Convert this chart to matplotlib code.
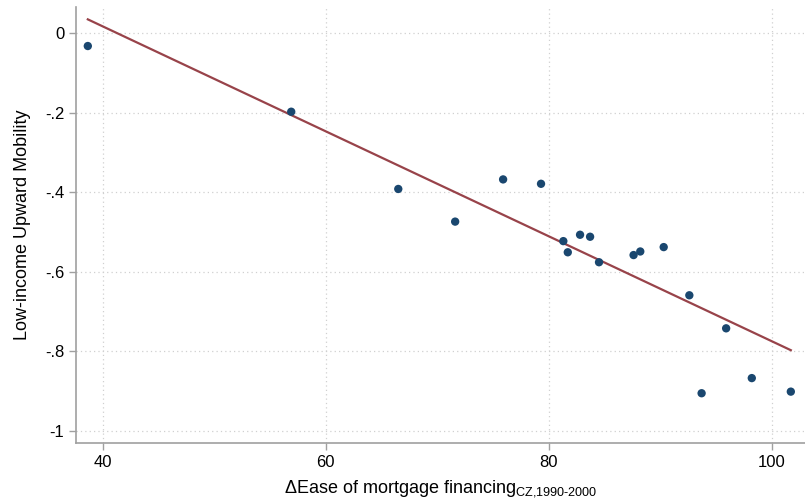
import numpy as np
import matplotlib
matplotlib.use("Agg")
import matplotlib.pyplot as plt

plt.rcParams['font.family'] = ['Liberation Sans', 'DejaVu Sans']
plt.rcParams['mathtext.fontset'] = 'custom'
plt.rcParams['mathtext.rm'] = 'Liberation Sans'

# binned scatter points
ease = [38.66, 56.9, 66.5, 71.6, 75.9, 79.3, 81.3, 81.7, 82.8, 83.7,
        84.5, 87.6, 88.2, 90.3, 92.6, 93.7, 95.9, 98.2, 101.7]
mobility = [-0.033, -0.198, -0.392, -0.474, -0.368, -0.379, -0.523, -0.551, -0.507, -0.512,
            -0.576, -0.558, -0.549, -0.538, -0.659, -0.905, -0.742, -0.867, -0.901]

# fitted line
fit_slope = -0.01318
fit_intercept = 0.5435

xticks = [40, 60, 80, 100]
yticks = [0, -0.2, -0.4, -0.6, -0.8, -1]
ytick_labels = ["0", "-.2", "-.4", "-.6", "-.8", "-1"]

fig = plt.figure(figsize=(8.05, 5.0), dpi=100)
ax = fig.add_axes([0.0944, 0.114, 0.906, 0.872])

grey = "#a0a0a0"
x_line = np.array([min(ease), max(ease)])
ax.plot(x_line, fit_intercept + fit_slope * x_line, color="#98434a", lw=1.6, zorder=2)
ax.scatter(ease, mobility, s=36, color="#1a476f", edgecolors="none", zorder=3)

ax.set_xlim(37.6, 103.0)
ax.set_ylim(-1.03, 0.065)
ax.set_xticks(xticks)
ax.set_yticks(yticks)
ax.set_yticklabels(ytick_labels)
ax.grid(True, color="#d0d0d0", linestyle=(0, (1, 2.5)), lw=0.9)
ax.set_axisbelow(True)

for s in ["top", "right"]:
    ax.spines[s].set_visible(False)
for s in ["left", "bottom"]:
    ax.spines[s].set_color(grey)
    ax.spines[s].set_linewidth(1.2)
ax.tick_params(colors=grey, labelcolor="black", labelsize=12, length=5, width=1)

ax.set_ylabel("Low-income Upward Mobility", fontsize=13, labelpad=10)
ax.set_xlabel(r"ΔEase of mortgage financing$_{\mathrm{CZ{,}1990\text{-}2000}}$", fontsize=13, labelpad=6)

fig.savefig("out.png", dpi=100)
